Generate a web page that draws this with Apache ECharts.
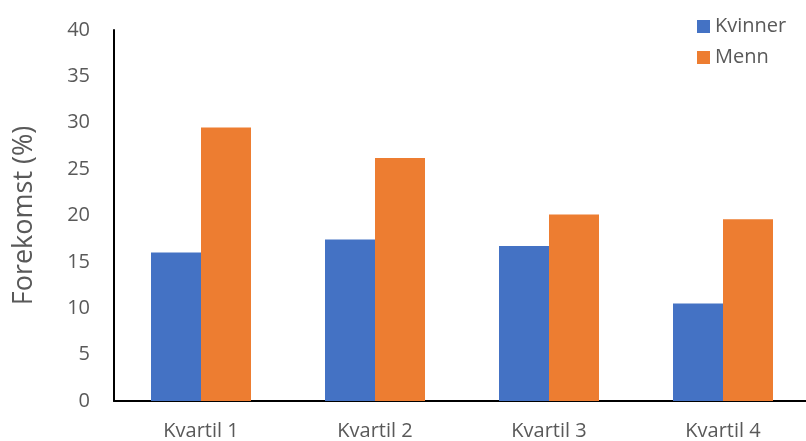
<!DOCTYPE html>
<html>
<head>
<meta charset="utf-8">
<script src="https://cdn.jsdelivr.net/npm/echarts@6/dist/echarts.min.js"></script>
<style>
  html, body { margin: 0; padding: 0; background: #fff; }
  #chart { width: 806px; height: 441px; }
</style>
</head>
<body>
<div id="chart"></div>
<script>
// Categories and prevalence values (%) by quartile
const categories = ['Kvartil 1', 'Kvartil 2', 'Kvartil 3', 'Kvartil 4'];
const kvinner = [16.0, 17.4, 16.7, 10.5];
const menn = [29.5, 26.2, 20.1, 19.6];
const yTicks = { min: 0, max: 40, interval: 5 };

const FONT = '"Open Sans", "Noto Sans", sans-serif';
const TEXT = '#595959';

const chart = echarts.init(document.getElementById('chart'), null, { renderer: 'canvas' });
chart.setOption({
  animation: false,
  backgroundColor: '#ffffff',
  textStyle: { fontFamily: FONT },
  legend: {
    orient: 'vertical',
    left: 692,
    top: 8,
    itemWidth: 13,
    itemHeight: 13,
    itemGap: 4,
    icon: 'rect',
    textStyle: { color: TEXT, fontSize: 20, fontFamily: FONT, lineHeight: 27 },
    data: ['Kvinner', 'Menn']
  },
  grid: {
    left: 114, top: 30, width: 696, bottom: 40,
    containLabel: false,
    outerBoundsMode: 'none'
  },
  xAxis: {
    type: 'category',
    data: categories,
    axisLine: { lineStyle: { color: '#000', width: 2 } },
    axisTick: { show: false },
    axisLabel: { color: TEXT, fontSize: 20, fontFamily: FONT, margin: 20 }
  },
  yAxis: {
    type: 'value',
    min: yTicks.min,
    max: yTicks.max,
    interval: yTicks.interval,
    name: 'Forekomst (%)',
    nameLocation: 'middle',
    nameGap: 76,
    nameRotate: 90,
    nameTextStyle: { color: TEXT, fontSize: 27, fontFamily: FONT },
    axisLine: { show: true, lineStyle: { color: '#000', width: 2 } },
    axisTick: { show: false },
    splitLine: { show: false },
    axisLabel: { color: TEXT, fontSize: 20, fontFamily: FONT, margin: 24 }
  },
  series: [
    {
      name: 'Kvinner',
      type: 'bar',
      data: kvinner,
      barWidth: 50,
      barGap: '0%',
      itemStyle: { color: '#4472C4' }
    },
    {
      name: 'Menn',
      type: 'bar',
      data: menn,
      barWidth: 50,
      itemStyle: { color: '#ED7D31' }
    }
  ]
});
</script>
</body>
</html>
